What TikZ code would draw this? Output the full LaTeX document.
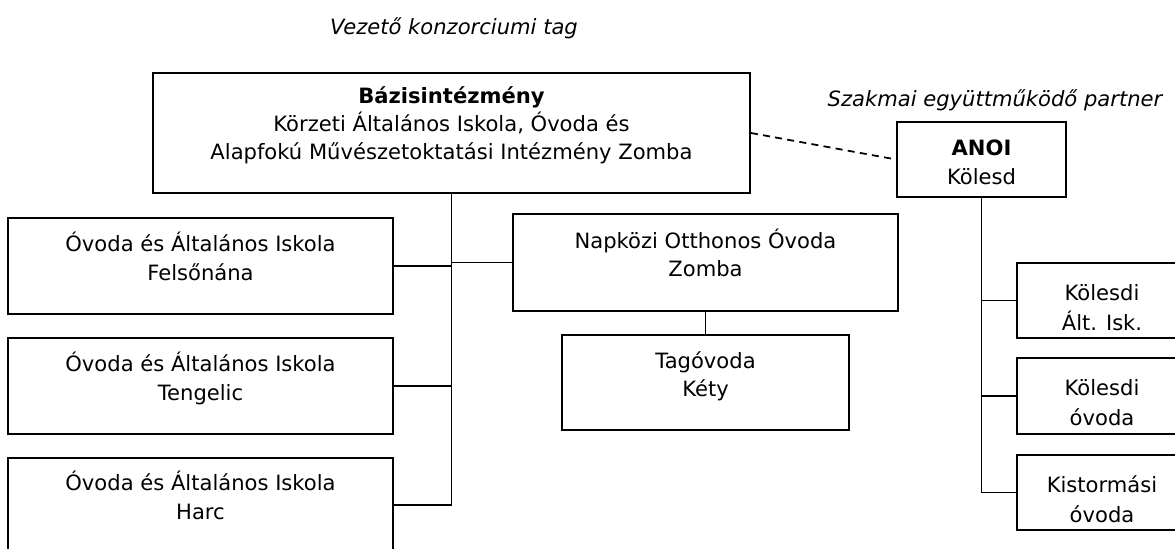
\documentclass[tikz,border=0pt]{standalone}
\usepackage{fontspec}
\setmainfont{DejaVu Sans}

\tikzset{
  box/.style={draw, align=center, inner sep=0pt, text height=25pt, text depth=9pt,
              minimum width=7.7cm, minimum height=1.92cm},
  smallbox/.style={box, font=\fontsize{12pt}{17pt}\selectfont, text height=35pt, text depth=1.2pt,
                   minimum width=3.4cm, minimum height=1.5cm},
  note/.style={font=\fontsize{12pt}{16pt}\selectfont\itshape},
  partnerline/.style={dash pattern=on 4pt off 3pt}
}

\begin{document}
\begin{tikzpicture}[font=\fontsize{12pt}{16pt}\selectfont, line width=1pt]
    \useasboundingbox (0cm,0cm) rectangle (23.5cm,10.98cm);

    \draw (9.08cm,10.42cm) node[note] (lead)    {Vezető konzorciumi tag};
    \draw (19.9cm,8.98cm)  node[note] (partner) {Szakmai együttműködő partner};

    % consortium
    \draw (9.03cm,8.32cm) node[box, minimum width=11.94cm, minimum height=2.4cm,
                               text height=43pt, text depth=12.6pt] (bazis)
      {\textbf{Bázisintézmény}\\Körzeti Általános Iskola, Óvoda és\\Alapfokú Művészetoktatási Intézmény Zomba};

    \draw (4.01cm,5.66cm) node[box] (felso)    {Óvoda és Általános Iskola\\Felsőnána};
    \draw (4.01cm,3.26cm) node[box] (tengelic) {Óvoda és Általános Iskola\\Tengelic};
    \draw (4.01cm,0.88cm) node[box, minimum height=1.88cm] (harc) {Óvoda és Általános Iskola\\Harc};

    \draw (14.11cm,5.73cm) node[box, minimum height=1.94cm] (napkozi) {Napközi Otthonos Óvoda\\Zomba};
    \draw (14.11cm,3.33cm) node[box, minimum width=5.74cm, minimum height=1.9cm] (kety) {Tagóvoda\\Kéty};

    % partner
    \draw (19.63cm,7.79cm) node[box, minimum width=3.38cm, minimum height=1.5cm,
                                text height=30pt, text depth=2pt] (anoi) {\textbf{ANOI}\\Kölesd};
    \draw (22.04cm,4.97cm) node[smallbox] (kolisk)    {Kölesdi\\Ált. Isk.};
    \draw (22.04cm,3.06cm) node[smallbox, minimum height=1.52cm] (kolovoda) {Kölesdi\\óvoda};
    \draw (22.04cm,1.13cm) node[smallbox] (kistormas) {Kistormási\\óvoda};

    \draw (bazis.south) -- (bazis.south |- harc.east) -- (harc.east);
    \draw (felso.east) -- (felso.east -| bazis.south);
    \draw (tengelic.east) -- (tengelic.east -| bazis.south);
    \draw (napkozi.west) -- (napkozi.west -| bazis.south);
    \draw (napkozi.south) -- (kety.north);

    \draw[partnerline] (bazis.east) -- (anoi.west);

    \draw (anoi.south) -- (anoi.south |- kistormas.west) -- (kistormas.west);
    \draw (kolisk.west) -- (kolisk.west -| anoi.south);
    \draw (kolovoda.west) -- (kolovoda.west -| anoi.south);
\end{tikzpicture}
\end{document}
